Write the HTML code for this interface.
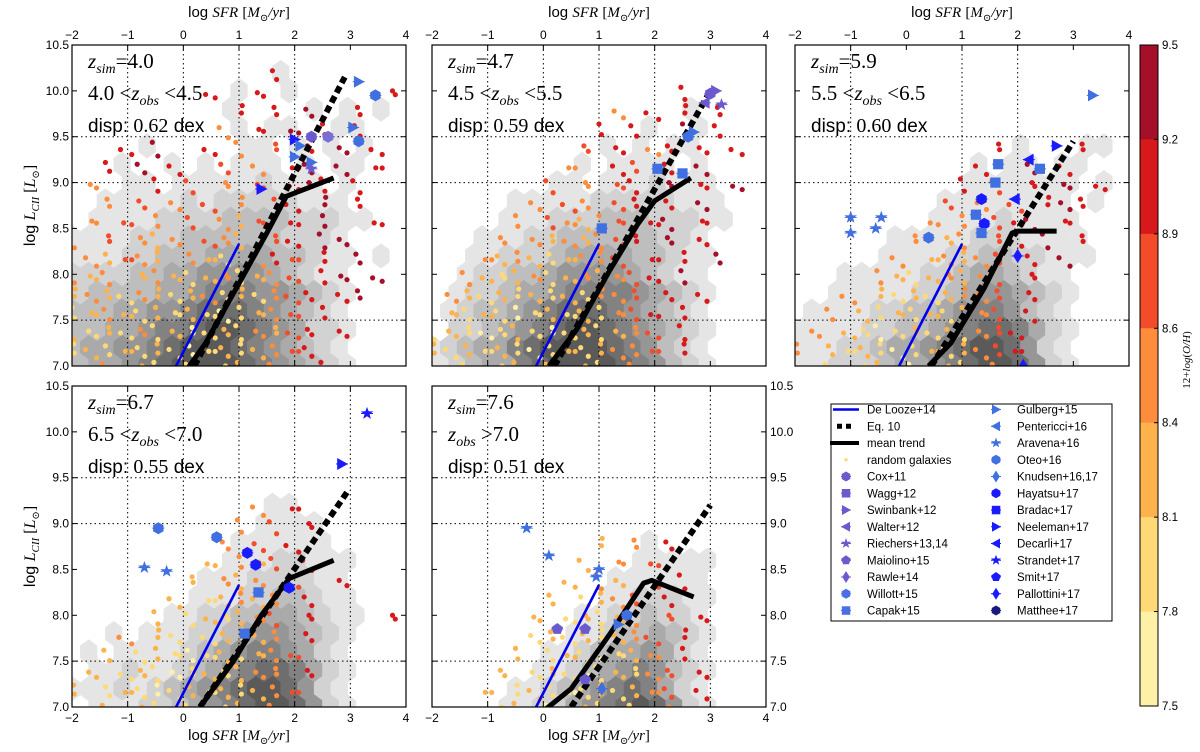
<!DOCTYPE html>
<html><head><meta charset="utf-8">
<style>
html,body{margin:0;padding:0;background:#fff;}
svg{display:block;font-family:"Liberation Sans","DejaVu Sans",sans-serif;}
.serif{font-family:"Liberation Serif","DejaVu Serif",serif;}
</style></head>
<body>
<svg id="fig" width="1200" height="752" viewBox="0 0 1200 752" xmlns="http://www.w3.org/2000/svg"></svg>
<script>
// ---------- data ----------
const xTicks = [-2,-1,0,1,2,3,4];
const xTickLabels = ["\u22122","\u22121","0","1","2","3","4"];
const yTicks = [7.0,7.5,8.0,8.5,9.0,9.5,10.0,10.5];
const yTickLabels = ["7.0","7.5","8.0","8.5","9.0","9.5","10.0","10.5"];
const zSim = ["4.0","4.7","5.9","6.7","7.6"];
const zObsLo = ["4.0","4.5","5.5","6.5",null];
const zObsHi = ["4.5","5.5","6.5","7.0","7.0"];
const dispVals = ["0.62","0.59","0.60","0.55","0.51"];
const deLoozeX = [-0.13, 1.0];
const deLoozeY = [7.0, 8.33];
const eq10X = [[0.2,2.9],[0.2,3.0],[0.45,3.0],[0.3,2.95],[0.5,3.0]];
const eq10Y = [[7.0,10.15],[7.0,10.0],[7.0,9.45],[7.0,9.35],[7.0,9.2]];
const meanX = [[0.05,0.4,1.0,1.5,1.85,2.7],[0.1,0.6,1.2,1.7,2.0,2.65],[0.4,0.8,1.4,1.9,2.0,2.7],[0.3,0.9,1.4,1.9,2.7],[0.05,0.5,1.2,1.8,1.95,2.7]];
const meanY = [[6.95,7.25,7.9,8.45,8.85,9.05],[7.0,7.4,8.05,8.55,8.8,9.05],[7.0,7.25,7.85,8.45,8.47,8.47],[7.0,7.5,8.0,8.4,8.6],[6.98,7.2,7.8,8.35,8.38,8.2]];
// observational points: [x, y, marker, colour]
const obs1 = [[3.15,10.1,"tri","#3f6fe0"],[3.45,9.95,"hex","#3f6fe0"],[3.05,9.6,"tri","#3f6fe0"],[3.15,9.45,"hex","#3f6fe0"],[1.4,8.93,"tri","#1a1aff"],[2.0,9.47,"tri","#1a1aff"],[2.1,9.4,"tri","#3f6fe0"],[2.3,9.22,"tri","#3f6fe0"],[2.0,9.28,"tri","#3f6fe0"],[2.3,9.5,"hex","#6a5acd"],[2.6,9.5,"hex","#7b6fd6"],[2.3,9.15,"star","#6a5acd"]];
const obs2 = [[3.1,10.0,"tri","#6a5acd"],[3.0,9.97,"hex","#6a5acd"],[3.2,9.85,"star","#6a5acd"],[2.9,9.87,"tril","#6a5acd"],[2.7,9.55,"tri","#3f6fe0"],[2.6,9.5,"hex","#3f6fe0"],[2.05,9.15,"sq","#3f6fe0"],[1.05,8.5,"sq","#3f6fe0"],[2.5,9.1,"sq","#3f6fe0"]];
const obs3 = [[3.35,9.95,"tri","#3f6fe0"],[-1.0,8.62,"star","#3f6fe0"],[-1.0,8.45,"star","#3f6fe0"],[-0.45,8.62,"star","#3f6fe0"],[-0.55,8.5,"star","#3f6fe0"],[0.4,8.4,"hex","#3f6fe0"],[2.7,9.4,"tri","#1a1aff"],[2.2,9.25,"tril","#1a1aff"],[1.65,9.2,"sq","#3f6fe0"],[1.6,9.0,"sq","#3f6fe0"],[2.4,9.15,"sq","#3f6fe0"],[1.95,8.82,"tril","#1a1aff"],[1.35,8.82,"hex","#1a1aff"],[1.25,8.65,"sq","#3f6fe0"],[1.4,8.55,"hex","#1a1aff"],[1.35,8.45,"sq","#3f6fe0"],[2.0,8.2,"dia","#1a1aff"],[2.1,7.0,"dia","#1a1aff"]];
const obs4 = [[-0.7,8.52,"star","#3f6fe0"],[-0.45,8.95,"hex","#3f6fe0"],[-0.3,8.48,"star","#3f6fe0"],[0.6,8.85,"hex","#3f6fe0"],[3.3,10.2,"star","#1a1aff"],[2.85,9.65,"tri","#1a1aff"],[1.15,8.68,"hex","#1a1aff"],[1.3,8.55,"hex","#1a1aff"],[1.35,8.25,"sq","#3f6fe0"],[1.1,7.8,"sq","#3f6fe0"],[1.9,8.3,"hex","#1a1aff"]];
const obs5 = [[-0.3,8.95,"star","#3f6fe0"],[0.1,8.65,"star","#3f6fe0"],[1.0,8.5,"star","#3f6fe0"],[0.95,8.42,"star","#3f6fe0"],[0.25,7.85,"pent","#6a5acd"],[0.75,7.85,"pent","#6a5acd"],[1.35,7.9,"tri","#3f6fe0"],[0.75,7.3,"pent","#6a5acd"],[1.05,7.2,"dia","#3f6fe0"],[1.5,8.0,"hex","#3f6fe0"]];
// hexbin density grids (rows y=10.4..7.0 step 0.2; cols x=-2..3.7 step 0.3)
const dens1 = ["00000000000000000000","00000000000010000000","00000000001001000000","00000000010000101010","00000000001011001100","00001000001101010100","00010010101110101100","00011011111211101000","00111112122222111000","01111222233332221100","11112223333332221000","11122333444433211010","22223344555543211000","23333445666554321000","33344556777654321000","33445667887654221000","34455678887654321000","34456788887654321000"];
const dens2 = ["00000000000000000000","00000000000000000000","00000000000000000000","00000000000000010000","00000000000001001000","00000000001010110000","00000000010111101000","00000001101112111000","00000111112222211100","00001112223332221100","00011122333333221000","00112223444433211000","00122334555543211000","01223445666654321000","01233456777654321000","02234567887654321000","12344678888765321000","12344678888765321000"];
const dens3 = ["00000000000000000000","00000000000000000000","00000000000000000000","00000000000000000000","00000000000000000000","00000000000001000110","00000000000101101100","00000000001111111010","00000000011111111010","00000000111121111000","00000011111222111100","00000111122332211100","00011111223443211000","00111112234554321000","01111223345665321000","11112233456776421000","11122344567887521000","11222344567887521000"];
const dens4 = ["00000000000000000000","00000000000000000000","00000000000000000000","00000000000000000000","00000000000000000000","00000000000000000000","00000000000011000000","00000000000111100000","00000000001111110000","00000000011122111000","00000000111222211000","00000001112233211000","00000011223344321100","00101112234554321000","01011112345665421000","01121123456776421000","11121234567887521000","01112234567887521000"];
const dens5 = ["00000000000000000000","00000000000000000000","00000000000000000000","00000000000000000000","00000000000000000000","00000000000000000000","00000000000000000000","00000000000000000000","00000000000001000000","00000000000011111000","00000000000111111000","00000000001122211000","00000000011223221000","00000000112334321000","00000001123445421000","00000011234565321000","00000112345676421000","00001122456787521000"];
// galaxy dot grids (metallicity class a..g)
const dots1 = ["....................","............f.......","........f..f.......f","..........f.f.g..f..",".........d.f.g.f.f..","...f.g..f.d.e.f.g.f.","..f.g.f..e.d.fg.g.f.",".d...f.e.d.e.fgf.f..","..d.e.d.e.d.ef.g.f..",".d.e.d.e.dce.f.g..f.","d.e.dcd.edc.ef.gg...",".dcedc.dcb.dfe.f.g..","dcd.cdcbcdbcde.fg.g.","cdcbdcbcdbcbdef.fg..","bcdcbcbcbabcde.f....","cbcbdbcabcbdcef.f...","bcbcbcbabcbcdef.....","cbdbcbcbcbcbdd.f...."];
const dots2 = ["....................","....................","...............f....","...........d.f.f.f..","..........f.f..g.f..",".........e.f.df.f.f.","........d..fe.f.g...",".......e.d.ef.g.f.g.","......d.ed.ef.f.g...",".....d.edcde.fg.f...","....d.dcdcdef.g.f...","...dcdcbcdde.f.f.g..","..dcbcdbcdcdef.g....",".dcbcbcbcbdde.f.f...",".cbcbabcbcbdef.f....","bcbabcbabcbcde.f....","cbcbcbabcbcdde.f....","bcbabcbcbcbcde......"];
const dots3 = ["....................","....................","....................","....................","....................","............f....f..","...........f..g.f...","..........f.e.f.g.f.",".........e.d.e.fgf..","........d.d.efg.f...",".......d.cd.ef.g.f..","......d.cdcde.f.g...",".....dcbcdcde.f.....","...d.cbcbcdde.f.....","..d.cbcbcbcde.f.....",".d.cbabcbcbdef......","d.cbcbabcbcdef......",".cbcbcbabcbcde......"];
const dots4 = ["....................","....................","....................","....................","....................","....................","...........d.f......","..........d.e.f.....",".........d.e.f......","........c.dce.f.....",".......c.dcd.e..f...","......c.bcdcd.f.....",".....c.bcbcde.f....f","...d.cb.bcbcd.f.....","..c.bcbabcbcde......",".c.bcbabcbcdd.f.....","c.bcbabcbcbcde......",".bcbcbabcbcbdc......"];
const dots5 = ["....................","....................","....................","....................","....................","....................","....................","....................","..........c.d.f.....",".........c.d.e......","........c.dc.e.f....",".......c.bcde.f.....","......c.bcbcd.e.f...","......bcbcbcde.f....",".....c.bcbabcd.f....","....c.bcbabcbde.f...","...c.bcbabcbcde.f...","....bcbabcbcbcd....."];
const cbTicks = ["9.5","9.2","8.9","8.6","8.4","8.1","7.8","7.5"];
const cbColors = ["#a50f2a","#d7191c","#f34c2b","#fd8d3c","#feb24c","#fed976","#fff0a8"];
const legend1 = [["De Looze+14","line-blue"],["Eq. 10","dash"],["mean trend","line-black"],["random galaxies","dot"],["Cox+11","hex","#6a5acd"],["Wagg+12","sq","#6a5acd"],["Swinbank+12","tri","#6a5acd"],["Walter+12","tril","#6a5acd"],["Riechers+13,14","star","#6a5acd"],["Maiolino+15","pent","#6a5acd"],["Rawle+14","dia","#6a5acd"],["Willott+15","hex","#4a6fe3"],["Capak+15","sq","#4a6fe3"]];
const legend2 = [["Gulberg+15","tri","#3f6fe0"],["Pentericci+16","tril","#3f6fe0"],["Aravena+16","star","#3f6fe0"],["Oteo+16","hex","#3f6fe0"],["Knudsen+16,17","dia","#3f6fe0"],["Hayatsu+17","hex","#1a1aff"],["Bradac+17","sq","#1a1aff"],["Neeleman+17","tri","#1a1aff"],["Decarli+17","tril","#1a1aff"],["Strandet+17","star","#1a1aff"],["Smit+17","pent","#1a1aff"],["Pallottini+17","dia","#1a1aff"],["Matthee+17","hex","#1a1a80"]];

// ---------- helpers ----------
const NS="http://www.w3.org/2000/svg";
const svg=document.getElementById('fig');
function mk(tag,attrs,parent){const e=document.createElementNS(NS,tag);for(const k in attrs)e.setAttribute(k,attrs[k]);(parent||svg).appendChild(e);return e;}
const W=334,H=321;
const panels=[{l:72,t:45},{l:432,t:45},{l:795,t:45},{l:72,t:386},{l:432,t:386}];
const dens=[dens1,dens2,dens3,dens4,dens5];
const dots=[dots1,dots2,dots3,dots4,dots5];
const obsAll=[obs1,obs2,obs3,obs4,obs5];
const grayLv=["#fff","#e5e5e5","#d2d2d2","#bebebe","#aaaaaa","#969696","#828282","#6e6e6e","#5a5a5a","#454545"];
const dotCol={a:"#fff0a8",b:"#fed976",c:"#feb24c",d:"#fd8d3c",e:"#f34c2b",f:"#d7191c",g:"#a50f2a"};

function markerPath(m,cx,cy,s){
  let pts=[];
  if(m==="tri"){pts=[[cx+s,cy],[cx-s*0.8,cy-s],[cx-s*0.8,cy+s]];}
  else if(m==="tril"){pts=[[cx-s,cy],[cx+s*0.8,cy-s],[cx+s*0.8,cy+s]];}
  else if(m==="sq"){pts=[[cx-s*0.85,cy-s*0.85],[cx+s*0.85,cy-s*0.85],[cx+s*0.85,cy+s*0.85],[cx-s*0.85,cy+s*0.85]];}
  else if(m==="dia"){pts=[[cx,cy-s*1.2],[cx+s*0.75,cy],[cx,cy+s*1.2],[cx-s*0.75,cy]];}
  else if(m==="hex"){for(let i=0;i<6;i++){const a=Math.PI/3*i+Math.PI/6;pts.push([cx+s*Math.cos(a),cy+s*Math.sin(a)]);}}
  else if(m==="pent"){for(let i=0;i<5;i++){const a=-Math.PI/2+2*Math.PI/5*i;pts.push([cx+s*Math.cos(a),cy+s*Math.sin(a)]);}}
  else if(m==="star"){for(let i=0;i<10;i++){const a=-Math.PI/2+Math.PI/5*i;const r=i%2?s*0.45:s*1.1;pts.push([cx+r*Math.cos(a),cy+r*Math.sin(a)]);}}
  return "M"+pts.map(p=>p[0].toFixed(1)+","+p[1].toFixed(1)).join("L")+"Z";
}

const defs=mk('defs',{});
panels.forEach((p,i)=>{
  const X=v=>p.l+(v+2)/6*W;
  const Y=v=>p.t+(10.5-v)/3.5*H;
  const cp=mk('clipPath',{id:'cp'+i},defs);
  mk('rect',{x:p.l,y:p.t,width:W,height:H},cp);
  const g=mk('g',{'clip-path':'url(#cp'+i+')'});
  
  
  const hw=0.3/6*W, rowH=0.2/3.5*H, hh=rowH*4/3;
  const hexG=mk('g',{},g);
  
  
  dens[i].forEach((row,r)=>{
    const yv=10.4-r*0.2;
    for(let c=0;c<row.length;c++){
      const lv=+row[c]; if(!lv) continue;
      const xv=-2+c*0.3+(r%2?0.15:0);
      const cx=X(xv),cy=Y(yv);
      const d=`M${cx},${cy-hh/2}L${cx+hw/2},${cy-hh/4}L${cx+hw/2},${cy+hh/4}L${cx},${cy+hh/2}L${cx-hw/2},${cy+hh/4}L${cx-hw/2},${cy-hh/4}Z`;
      const h=mk('path',{d:d,fill:grayLv[lv],stroke:grayLv[lv],'stroke-width':0.6},hexG);
      
      
    }
  });
  const gx=i>=3?[-1,0,1,2,3]:(i===2?[-1,1,2]:[-1,0,1,2]);
  gx.forEach(v=>mk('line',{x1:X(v),x2:X(v),y1:p.t,y2:p.t+H,stroke:'#000','stroke-width':1,'stroke-dasharray':'1.5,3'},g));
  [7.5,9.0,9.5].forEach(v=>mk('line',{x1:p.l,x2:p.l+W,y1:Y(v),y2:Y(v),stroke:'#000','stroke-width':1,'stroke-dasharray':'1.5,3'},g));
  const dotG=mk('g',{},g);
  
  
  dots[i].forEach((row,r)=>{
    const yv=10.4-r*0.2;
    for(let c=0;c<row.length;c++){
      const ch=row[c]; if(ch===".") continue;
      const xv=-2+c*0.3;
      const cx=X(xv),cy=Y(yv);
      const o1=((c*7+r*3)%5-2)*1.6, o2=((c*3+r*5)%5-2)*1.8;
      const d1=mk('circle',{cx:cx+o1,cy:cy+o2,r:2.6,fill:dotCol[ch]},dotG);
      
      
      const d2=mk('circle',{cx:cx+o2+6,cy:cy-o1+7,r:2.6,fill:dotCol[ch]},dotG);
      
      
    }
  });
  const bl=mk('line',{x1:X(deLoozeX[0]),y1:Y(deLoozeY[0]),x2:X(deLoozeX[1]),y2:Y(deLoozeY[1]),stroke:'#0000ee','stroke-width':2.6},g);
  
  
  const eq=mk('line',{x1:X(eq10X[i][0]),y1:Y(eq10Y[i][0]),x2:X(eq10X[i][1]),y2:Y(eq10Y[i][1]),stroke:'#000','stroke-width':6,'stroke-dasharray':'7,4'},g);
  
  
  const mt=mk('polyline',{points:meanX[i].map((x,k)=>X(x)+','+Y(meanY[i][k])).join(' '),fill:'none',stroke:'#000','stroke-width':5,'stroke-linejoin':'round'},g);
  
  
  obsAll[i].forEach(o=>{
    const cx=X(o[0]),cy=Y(o[1]);
    mk('line',{x1:cx-6,x2:cx+6,y1:cy,y2:cy,stroke:o[3],'stroke-width':1},g);
    const m=mk('path',{d:markerPath(o[2],cx,cy,6),fill:o[3]},g);
    
    
  });
  const fr=mk('rect',{x:p.l,y:p.t,width:W,height:H,fill:'none',stroke:'#000','stroke-width':1.2});
  
  
  xTicks.forEach(v=>{mk('line',{x1:X(v),x2:X(v),y1:p.t,y2:p.t+5,stroke:'#000'});mk('line',{x1:X(v),x2:X(v),y1:p.t+H,y2:p.t+H-5,stroke:'#000'});});
  yTicks.forEach(v=>{mk('line',{x1:p.l,x2:p.l+5,y1:Y(v),y2:Y(v),stroke:'#000'});mk('line',{x1:p.l+W,x2:p.l+W-5,y1:Y(v),y2:Y(v),stroke:'#000'});});
  if(i<3){
    xTicks.forEach((v,k)=>{const t=mk('text',{x:X(v),y:p.t-6,'font-size':12,'text-anchor':'middle'});t.textContent=xTickLabels[k];
      
      });
    const xl=mk('text',{x:p.l+W/2,y:17,'font-size':15,'text-anchor':'middle'});
    xl.innerHTML='log <tspan class="serif" font-style="italic">SFR</tspan> <tspan class="serif">[<tspan font-style="italic">M</tspan><tspan font-size="10" dy="4">\u2299</tspan><tspan dy="-4" font-style="italic">/yr</tspan>]</tspan>';
    
    
  } else {
    xTicks.forEach((v,k)=>{const t=mk('text',{x:X(v),y:p.t+H+15,'font-size':12,'text-anchor':'middle'});t.textContent=xTickLabels[k];
      
      });
    const xl=mk('text',{x:p.l+W/2,y:740,'font-size':15,'text-anchor':'middle'});
    xl.innerHTML='log <tspan class="serif" font-style="italic">SFR</tspan> <tspan class="serif">[<tspan font-style="italic">M</tspan><tspan font-size="10" dy="4">\u2299</tspan><tspan dy="-4" font-style="italic">/yr</tspan>]</tspan>';
    
    
  }
  if(i===0||i===3){
    yTicks.forEach((v,k)=>{const t=mk('text',{x:p.l-3,y:Y(v)+4,'font-size':12,'text-anchor':'end'});t.textContent=yTickLabels[k];
      
      });
    const yl=mk('text',{x:0,y:0,'font-size':16,'text-anchor':'middle',transform:`translate(35,${p.t+H/2}) rotate(-90)`});
    yl.innerHTML='log <tspan class="serif" font-style="italic">L</tspan><tspan class="serif" font-style="italic" font-size="11" dy="4">CII</tspan><tspan class="serif" dy="-4"> [<tspan font-style="italic">L</tspan><tspan font-size="10" dy="4">\u2299</tspan><tspan dy="-4">]</tspan></tspan>';
    
    
  }
  if(i===4){
    yTicks.forEach((v,k)=>{const t=mk('text',{x:p.l+W+4,y:Y(v)+4,'font-size':12});t.textContent=yTickLabels[k];
      
      });
  }
  const a1=mk('text',{x:p.l+16,y:p.t+23,'font-size':21,class:'serif'});
  a1.innerHTML='<tspan font-style="italic">z</tspan><tspan font-style="italic" font-size="14" dy="5">sim</tspan><tspan dy="-5">=</tspan>'+zSim[i];
  
  
  const a2=mk('text',{x:p.l+16,y:p.t+55,'font-size':21,class:'serif'});
  a2.innerHTML=(zObsLo[i]?zObsLo[i]+' &lt;':'')+'<tspan font-style="italic">z</tspan><tspan font-style="italic" font-size="14" dy="5">obs</tspan><tspan dy="-5"> '+(zObsLo[i]?'&lt;':'&gt;')+'</tspan>'+zObsHi[i];
  
  
  const a3=mk('text',{x:p.l+16,y:p.t+87,'font-size':19});
  a3.innerHTML='disp: <tspan class="serif" font-size="20">'+dispVals[i]+'</tspan> dex';
  
  
});

// ---------- legend ----------
const lg=mk('g',{});


mk('rect',{x:831,y:404,width:281,height:217,fill:'#fff',stroke:'#000','stroke-width':1},lg);
function legendCol(list,mx,tx){
  list.forEach((e,k)=>{
    const y=409.5+k*16.75;
    const it=mk('g',{},lg);
    
    
    if(e[1]==="line-blue") mk('line',{x1:mx-13,x2:mx+13,y1:y,y2:y,stroke:'#0000ee','stroke-width':2.5},it);
    else if(e[1]==="line-black") mk('line',{x1:mx-16,x2:mx+13,y1:y,y2:y,stroke:'#000','stroke-width':4},it);
    else if(e[1]==="dash") mk('line',{x1:mx-9,x2:mx+9,y1:y,y2:y,stroke:'#000','stroke-width':5,'stroke-dasharray':'5,4'},it);
    else if(e[1]==="dot") mk('circle',{cx:mx,cy:y,r:1.8,fill:'#fed976'},it);
    else {mk('line',{x1:mx-5,x2:mx+5,y1:y,y2:y,stroke:e[2]},it);mk('path',{d:markerPath(e[1],mx,y,5),fill:e[2]},it);}
    const t=mk('text',{x:tx,y:y+4,'font-size':11.5},it);
    t.textContent=e[0];
  });
}
legendCol(legend1,846,867);
legendCol(legend2,996,1017);

// ---------- colorbar ----------
const cb=mk('g',{});


const cbTop=45,cbBot=706,cbX=1140,cbW=18;
const segH=(cbBot-cbTop)/cbColors.length;
cbColors.forEach((c,k)=>mk('rect',{x:cbX,y:cbTop+k*segH,width:cbW,height:segH+0.5,fill:c},cb));
mk('rect',{x:cbX,y:cbTop,width:cbW,height:cbBot-cbTop,fill:'none',stroke:'#000'},cb);
cbTicks.forEach((t,k)=>{const y=cbTop+k*segH;mk('line',{x1:cbX+cbW-4,x2:cbX+cbW,y1:y,y2:y,stroke:'#000'},cb);
  const tx=mk('text',{x:cbX+cbW+4,y:y+4,'font-size':11.5},cb);tx.textContent=t;});
const cbl=mk('text',{x:0,y:0,'font-size':11,'text-anchor':'middle',class:'serif',transform:'translate(1190,360) rotate(-90)'},cb);
cbl.innerHTML='12+<tspan font-style="italic">log</tspan>(<tspan font-style="italic">O/H</tspan>)';


</script>
</body></html>
